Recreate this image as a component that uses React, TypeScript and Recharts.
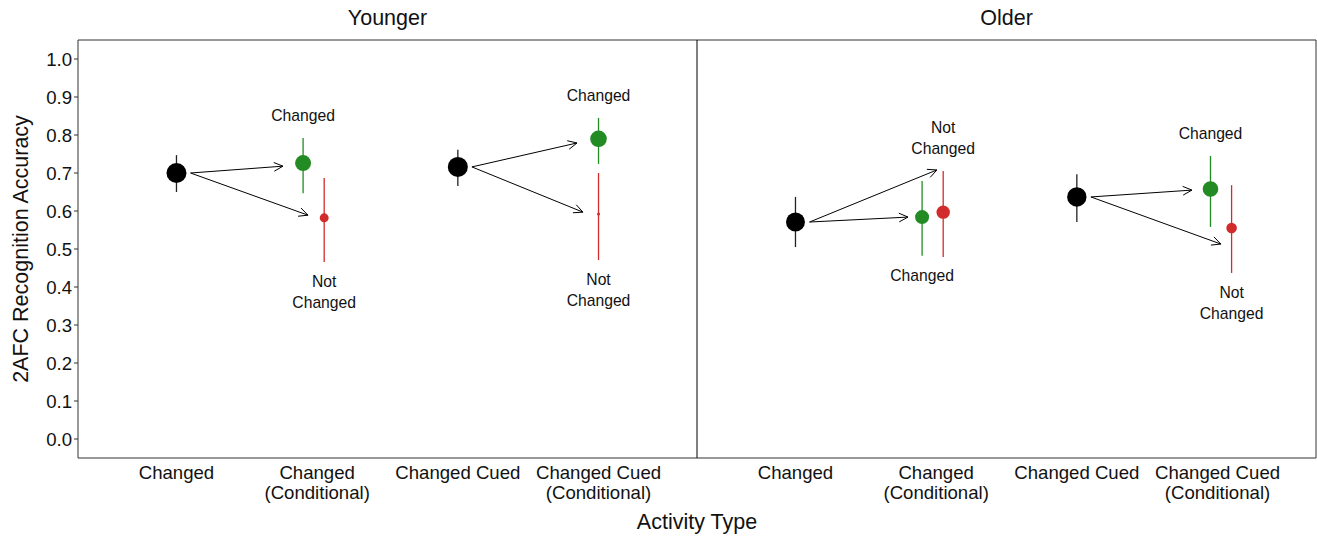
import {
  ComposedChart,
  ErrorBar,
  ReferenceArea,
  ReferenceLine,
  Scatter,
  XAxis,
  YAxis,
  ZAxis,
} from "recharts";

// Recognition accuracy by activity type, faceted by age group.

const FONT = '"Liberation Sans", Arial, Helvetica, sans-serif';

const panels = ["Younger", "Older"];
const activityTypes = [
  "Changed",
  "Changed\n(Conditional)",
  "Changed Cued",
  "Changed Cued\n(Conditional)",
];
const yTicks = [0, 0.1, 0.2, 0.3, 0.4, 0.5, 0.6, 0.7, 0.8, 0.9, 1.0];

// One entry per (panel, activity pair):
// Younger/Changed, Younger/Changed Cued, Older/Changed, Older/Changed Cued
const baselineMean = [0.7, 0.716, 0.571, 0.637];
const baselineLow = [0.65, 0.666, 0.505, 0.571];
const baselineHigh = [0.747, 0.761, 0.637, 0.697];
const baselineN = [100, 100, 90, 94];

const changedMean = [0.726, 0.79, 0.584, 0.658];
const changedLow = [0.647, 0.724, 0.482, 0.558];
const changedHigh = [0.792, 0.845, 0.679, 0.745];
const changedN = [64, 69, 49, 61];

const notChangedMean = [0.582, 0.592, 0.597, 0.555];
const notChangedLow = [0.466, 0.471, 0.479, 0.437];
const notChangedHigh = [0.687, 0.7, 0.705, 0.668];
const notChangedN = [20, 2.3, 45, 28];

// where each arrow from the baseline point ends (relative x, accuracy y)
const changedArrowDx = [-0.243, -0.153, -0.2, -0.182];
const changedArrowY = [0.718, 0.779, 0.584, 0.655];
const notChangedArrowDx = [-0.065, -0.111, 0.005, 0.024];
const notChangedArrowY = [0.589, 0.597, 0.708, 0.513];

// label placement relative to the error bar
const changedLabelSide = ["above", "above", "below", "above"];
const notChangedLabelSide = ["below", "below", "above", "below"];

const PANEL_SPAN = 4.4;
const X_MIN = 0.3;
const X_MAX = X_MIN + 2 * PANEL_SPAN;
const DODGE_CHANGED = [-0.1, 0, -0.1, -0.05];
const DODGE_NOT_CHANGED = [0.05, 0, 0.05, 0.1];
const ARROW_GAP = 0.1;

const GREEN = "#238b23";
const RED = "#d22b2b";

const baseX = (i: number) => Math.floor(i / 2) * PANEL_SPAN + (i % 2) * 2 + 1;

const baselineData = baselineMean.map((y, i) => ({
  x: baseX(i),
  y,
  n: baselineN[i],
  err: [y - baselineLow[i], baselineHigh[i] - y],
}));
const changedData = changedMean.map((y, i) => ({
  x: baseX(i) + 1 + DODGE_CHANGED[i],
  y,
  n: changedN[i],
  err: [y - changedLow[i], changedHigh[i] - y],
}));
const notChangedData = notChangedMean.map((y, i) => ({
  x: baseX(i) + 1 + DODGE_NOT_CHANGED[i],
  y,
  n: notChangedN[i],
  err: [y - notChangedLow[i], notChangedHigh[i] - y],
}));

const labelData = [
  ...changedData.map((d, i) => ({
    x: d.x,
    y: changedLabelSide[i] === "above" ? changedHigh[i] : changedLow[i],
    side: changedLabelSide[i],
    lines: ["Changed"],
  })),
  ...notChangedData.map((d, i) => ({
    x: d.x,
    y: notChangedLabelSide[i] === "above" ? notChangedHigh[i] : notChangedLow[i],
    side: notChangedLabelSide[i],
    lines: ["Not", "Changed"],
  })),
];

const arrows = baselineData.flatMap((b, i) => [
  [
    { x: b.x + ARROW_GAP, y: b.y },
    { x: baseX(i) + 1 + changedArrowDx[i], y: changedArrowY[i] },
  ],
  [
    { x: b.x + ARROW_GAP, y: b.y },
    { x: baseX(i) + 1 + notChangedArrowDx[i], y: notChangedArrowY[i] },
  ],
]);

const xTicks = panels.flatMap((_, p) =>
  activityTypes.map((__, k) => p * PANEL_SPAN + k + 1)
);

function ActivityTick(props: any) {
  const { x, y, index } = props;
  const lines = activityTypes[index % activityTypes.length].split("\n");
  return (
    <text x={x} y={y} textAnchor="middle" fontSize={18.6} fill="#111" fontFamily={FONT}>
      {lines.map((line, i) => (
        <tspan key={i} x={x} dy={i === 0 ? 21 : 20}>
          {line}
        </tspan>
      ))}
    </text>
  );
}

function AnnotationLabel(props: any) {
  const { cx, cy, payload } = props;
  const lines: string[] = payload.lines;
  const lineH = 21;
  const firstCenter =
    payload.side === "above" ? cy - 22 - (lines.length - 1) * lineH : cy + 20;
  return (
    <text textAnchor="middle" fontSize={15.7} fill="#111" fontFamily={FONT}>
      {lines.map((line, i) => (
        <tspan key={i} x={cx} y={firstCenter + i * lineH + 5}>
          {line}
        </tspan>
      ))}
    </text>
  );
}

function Arrow(props: any) {
  const { x1, y1, x2, y2 } = props;
  const ang = Math.atan2(y2 - y1, x2 - x1);
  const len = 10;
  const spread = 0.45;
  const a = [x2 - len * Math.cos(ang - spread), y2 - len * Math.sin(ang - spread)];
  const b = [x2 - len * Math.cos(ang + spread), y2 - len * Math.sin(ang + spread)];
  return (
    <g>
      <line x1={x1} y1={y1} x2={x2} y2={y2} stroke="#000" strokeWidth={1} />
      <polyline
        points={`${a[0]},${a[1]} ${x2},${y2} ${b[0]},${b[1]}`}
        fill="none"
        stroke="#000"
        strokeWidth={1}
      />
    </g>
  );
}

const titleStyle: React.CSSProperties = {
  position: "absolute",
  transform: "translate(-50%, -50%)",
  fontSize: 21.5,
  lineHeight: 1,
  whiteSpace: "nowrap",
  color: "#111",
};

export default function App() {
  return (
    <div
      style={{
        position: "absolute",
        left: 0,
        top: 0,
        width: 1317,
        height: 538,
        background: "#fff",
        fontFamily: FONT,
      }}
    >
      <ComposedChart width={1317} height={538} margin={{ top: 40, right: 1, bottom: 0, left: 0 }}>
        <XAxis
          type="number"
          dataKey="x"
          domain={[X_MIN, X_MAX]}
          ticks={xTicks}
          interval={0}
          allowDataOverflow
          axisLine={false}
          tickLine={false}
          tickSize={0}
          tickMargin={0}
          height={80}
          tick={<ActivityTick />}
        />
        <YAxis
          type="number"
          dataKey="y"
          domain={[-0.05, 1.05]}
          ticks={yTicks}
          interval={0}
          allowDataOverflow
          width={78}
          axisLine={false}
          tickSize={4}
          tickMargin={2}
          tickLine={{ stroke: "#333" }}
          tickFormatter={(v: number) => v.toFixed(1)}
          tick={{ fontSize: 18.6, fill: "#111", fontFamily: FONT }}
        />
        <ZAxis type="number" dataKey="n" domain={[0, 100]} range={[0, 314.16]} />

        <ReferenceArea
          x1={X_MIN}
          x2={X_MAX}
          y1={-0.05}
          y2={1.05}
          fill="none"
          fillOpacity={0}
          stroke="#333"
          strokeWidth={1}
          ifOverflow="visible"
        />
        <ReferenceLine x={X_MIN + PANEL_SPAN} stroke="#000" strokeWidth={1} ifOverflow="visible" />

        {arrows.map((seg, i) => (
          <ReferenceLine key={i} segment={seg} shape={Arrow} ifOverflow="visible" />
        ))}

        <Scatter data={notChangedData} fill={RED} isAnimationActive={false}>
          <ErrorBar dataKey="err" direction="y" width={0} stroke={RED} strokeWidth={1.3} />
        </Scatter>
        <Scatter data={changedData} fill={GREEN} isAnimationActive={false}>
          <ErrorBar dataKey="err" direction="y" width={0} stroke={GREEN} strokeWidth={1.3} />
        </Scatter>
        <Scatter data={baselineData} fill="#000" isAnimationActive={false}>
          <ErrorBar dataKey="err" direction="y" width={0} stroke="#222" strokeWidth={1.3} />
        </Scatter>
        <Scatter data={labelData} shape={<AnnotationLabel />} isAnimationActive={false} />
      </ComposedChart>

      {panels.map((p, i) => (
        <div key={p} style={{ ...titleStyle, left: 78 + (i + 0.5) * 619, top: 19 }}>
          {p}
        </div>
      ))}
      <div style={{ ...titleStyle, left: 697, top: 523 }}>Activity Type</div>
      <div style={{ ...titleStyle, left: 22, top: 249, transform: "translate(-50%, -50%) rotate(-90deg)" }}>
        2AFC Recognition Accuracy
      </div>
    </div>
  );
}
